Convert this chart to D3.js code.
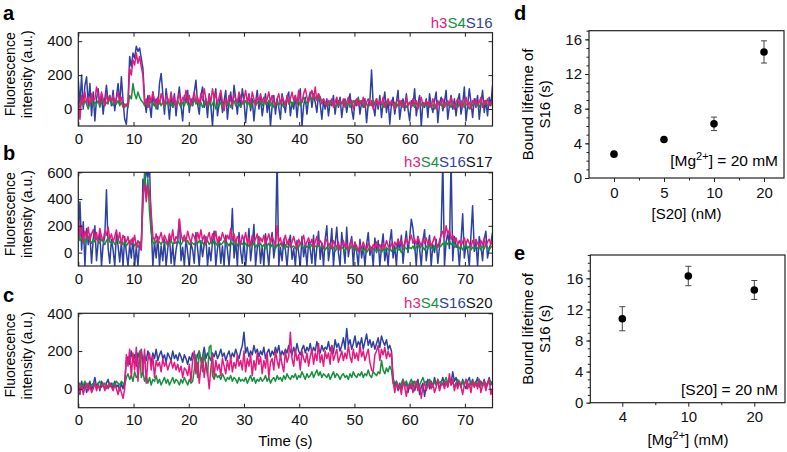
<!DOCTYPE html>
<html>
<head>
<meta charset="utf-8">
<script src="https://cdn.jsdelivr.net/npm/d3@7"></script>
<style>
  body { margin: 0; background: white; }
  svg { font-family: "Liberation Sans", Arial, Helvetica, sans-serif; }
</style>
</head>
<body>
<div id="chart"></div>
<script>
// fluorescence traces, one reading every 0.3 s from 0 to 75 s (a.u.)
const aS16 = [170,30,200,0,140,190,20,150,-40,100, -70,60,120,20,90,-30,60,140,40,80, 20,110,-10,70,150,30,190,50,-60,-90,
  40,310,250,330,300,370,340,360,300,240, 60,-20,80,30,-50,100,20,60,0,150, 210,90,-30,120,40,-60,70,10,90,-40,
  60,130,20,-70,80,40,110,-20,60,20, 100,170,30,-30,80,130,10,60,-50,90, 20,-100,60,120,-40,30,90,-20,50,110,
  -60,40,100,0,140,60,-30,80,10,120, 50,-80,30,90,-10,60,-70,40,110,0, 70,-40,30,90,-20,50,-100,20,80,-30,
  60,10,-60,90,30,-20,70,100,-40,40, 0,80,-50,50,120,-100,20,70,-30,60, 100,10,80,40,-20,90,30,-60,50,0,
  60,-40,40,20,80,-30,50,10,70,-50, 30,60,-20,40,90,0,-60,50,20,70, -30,40,10,60,-80,30,50,230,20,-40,
  60,0,80,-50,40,100,-20,50,-90,30, 70,-30,40,110,-60,20,60,-10,90,0, -70,50,20,120,-40,30,80,-100,40,10,
  60,-50,90,20,-20,50,100,-80,30,70, -10,40,110,-60,20,80,0,60,-40,50, 90,-30,30,130,-70,20,120,40,-50,60,
  10,80,-60,30,110,-20,50,-40,70,20, 140];
const aS4 = [30,10,40,20,50,30,0,40,60,20, 40,30,50,10,40,60,20,40,30,80, 40,20,60,30,50,20,40,10,30,20,
  10,80,60,150,90,60,100,70,50,40, 20,40,10,30,50,20,40,0,30,50, 20,40,10,30,60,20,40,10,30,20,
  50,30,10,40,20,50,30,10,40,20, 60,30,50,20,40,10,30,50,20,40, 10,30,50,0,30,20,40,10,30,50,
  20,40,10,30,50,20,40,30,10,40, 30,50,20,40,10,30,50,20,40,30, 50,20,40,60,30,50,20,40,10,30,
  40,20,50,30,10,40,60,30,50,20, 40,60,30,50,20,40,70,50,30,60, 70,50,90,60,80,50,70,40,60,30,
  40,20,50,30,40,10,30,50,20,40, 30,50,20,40,10,30,50,20,40,60, 30,50,20,40,30,10,40,20,50,30,
  40,20,50,30,10,40,20,50,30,40, 20,40,10,30,50,20,40,30,10,30, 40,20,30,10,40,20,50,30,10,30,
  20,40,10,30,20,0,30,40,20,30, 10,30,40,20,30,10,40,20,30,10, 30,20,40,10,30,20,0,30,20,40,
  20,30,10,40,20,30,50,20,40,30, 40];
const aH3 = [50,-60,80,30,100,40,70,20,90,50, 60,130,80,30,100,60,20,90,40,70, 50,80,30,60,100,40,70,20,10,30,
  20,240,200,290,260,330,270,310,250,200, 30,60,10,80,40,100,50,20,70,30, 90,50,20,80,60,30,100,40,70,10,
  60,90,30,70,50,110,40,80,20,60, 100,40,70,30,90,50,120,60,20,80, 40,120,60,90,30,70,110,40,-10,60,
  30,80,50,20,90,60,40,100,70,30, 60,110,40,80,30,100,60,20,70,50, 90,40,70,30,60,100,40,80,50,20,
  60,90,30,70,50,20,80,40,60,100, 50,80,30,110,60,40,90,120,70,40, 80,110,60,130,50,90,70,30,60,40,
  20,50,30,60,10,40,70,20,50,30, 60,10,40,70,30,50,0,40,60,20, 50,30,70,10,40,60,20,50,0,40,
  60,20,50,30,70,10,40,60,20,50, 30,0,40,60,20,50,10,30,70,20, 40,10,60,30,50,0,40,70,20,30,
  50,20,40,10,60,30,0,50,20,40, 60,10,30,50,20,70,30,0,40,60, 20,50,10,40,70,20,40,0,50,30,
  60,20,40,70,10,50,30,60,20,40, 30];

const bS16 = [150,380,20,230,-100,180,60,140,-80,100, 200,-60,80,150,-100,60,120,470,30,-80, 100,20,-100,140,50,-70,80,-100,120,0,
  -100,60,-40,110,-100,40,-100,80,20,550, 480,620,560,650,200,-100,80,-40,120,-100, 50,-60,100,-100,30,130,-80,60,-100,20,
  90,250,-60,40,-100,110,0,-100,70,20, -80,150,30,-100,90,-30,60,120,-100,40, -60,80,160,-100,30,100,-80,50,-100,130,
  20,-100,70,330,-40,90,-100,150,10,-80, 100,-100,40,180,-60,60,210,-100,30,120, -80,50,-100,140,20,-100,80,150,-40,60,
  700,-100,40,-60,100,20,-100,60,130,-50, 30,-100,90,0,-100,120,-30,50,-100,80, 20,-80,130,-100,40,160,-50,70,-100,100,
  200,-60,30,180,-100,60,190,0,-100,150, 40,-80,190,-30,60,120,-100,80,10,-100, 100,-40,50,-100,60,150,-20,40,-100,110,
  0,90,-100,40,140,-60,30,-100,80,170, -40,50,-100,100,20,130,-80,60,160,0, 110,250,180,60,-100,120,30,-100,90,170,
  -60,40,130,-100,60,0,100,-80,40,150, 700,-100,80,150,30,700,-60,120,40,60, -100,90,290,-40,60,20,-100,130,350,10,
  80,-100,120,50,-60,100,160,-40,30,70, 150];
const bS4 = [150,90,110,70,100,80,120,90,70,100, 80,110,90,70,100,80,60,90,110,80, 70,90,60,80,100,70,90,60,80,50,
  70,90,60,80,50,70,40,60,80,350, 600,420,550,300,150,80,60,90,70,80, 60,90,70,80,50,70,90,60,80,70,
  90,70,60,80,100,70,90,60,80,70, 60,80,70,90,60,80,50,70,90,60, 80,60,90,70,50,80,60,70,90,60,
  70,50,80,60,90,70,50,80,60,70, 50,70,40,60,80,50,70,40,60,50, 70,40,60,30,50,70,40,60,50,30,
  60,40,70,50,30,60,40,50,70,40, 50,30,60,40,70,50,30,60,40,50, 40,60,30,50,40,60,30,50,40,20,
  40,20,50,30,40,10,30,50,20,40, 30,10,40,20,30,50,20,40,10,30, 20,40,10,30,0,20,40,10,30,20,
  10,30,20,0,30,10,40,20,30,10, 30,10,40,20,30,0,20,40,30,20, 40,30,50,20,40,60,30,50,40,20,
  50,30,60,40,20,50,30,60,40,50, 70,50,80,60,90,60,70,40,60,50, 30,50,20,40,60,30,50,20,40,30,
  50,30,40,20,50,30,60,40,20,40, 50];
const bH3 = [260,120,200,80,160,110,190,90,140,170, 100,150,80,180,120,90,160,130,190,100, 140,80,120,170,90,150,60,130,100,80,
  120,50,100,70,130,40,90,60,20,420, 520,380,500,450,300,120,90,140,70,110, 150,80,130,100,60,140,90,170,70,120,
  100,250,140,90,130,80,160,110,70,140, 120,80,150,100,170,90,130,60,110,150, 80,140,100,160,70,120,90,150,110,80,
  130,100,180,90,140,70,120,100,60,130, 90,150,70,110,50,130,80,100,140,60, 110,80,130,60,100,140,70,120,90,50,
  200,80,110,50,90,130,60,100,40,80, 120,70,30,100,60,90,130,50,80,110, 60,100,40,80,120,50,90,70,30,80,
  100,50,70,30,90,60,40,80,20,60, 90,40,70,20,60,100,30,70,50,10, 60,30,80,40,20,70,50,10,60,40,
  80,30,60,20,70,40,90,50,30,70, 40,80,50,100,60,90,40,70,110,60, 90,130,70,100,60,120,80,50,100,70,
  110,60,90,50,80,120,70,40,90,130, 160,110,200,140,170,100,130,80,110,60, 90,50,80,110,60,100,70,40,90,60,
  100,70,40,90,60,110,50,80,100,60, 90];

const cS16 = [20,-30,40,0,30,-20,10,40,-10,20, 60,10,30,-10,40,20,0,30,50,10, 30,0,40,10,20,-10,30,0,40,150,
  170,130,200,150,180,120,190,160,210,140, 180,150,200,170,140,190,160,210,150,180, 200,160,180,140,190,170,150,200,160,180,
  150,190,170,140,180,160,130,170,150,190, 160,140,180,200,150,170,220,160,190,170, 150,190,170,200,160,180,210,170,190,150,
  180,200,160,190,170,210,180,160,200,230, 300,190,220,170,200,180,230,190,210,170, 200,180,220,160,190,210,170,200,180,220,
  190,230,170,200,180,210,190,230,200,180, 220,190,240,200,180,210,230,190,220,200, 240,190,220,200,250,210,190,230,200,220,
  210,250,200,230,190,260,220,240,200,230, 270,210,320,230,260,210,240,280,220,250, 230,270,210,250,290,230,260,220,250,210,
  240,270,220,280,250,230,260,210,230,200, 60,20,40,-10,30,0,50,10,40,-20, 30,0,40,-10,20,50,-30,10,30,-40,
  20,50,0,40,10,60,20,40,0,30, 60,20,40,10,50,30,90,40,60,20, 40,10,50,20,0,40,60,20,50,10,
  30,60,10,40,20,50,0,30,60,20, 40];
const cS4 = [10,30,0,20,40,10,30,0,20,30, 20,10,30,40,10,20,30,0,20,30, 10,30,20,40,30,20,40,30,20,60,
  80,50,70,40,90,60,70,200,60,90, 40,70,30,60,20,50,40,70,30,50, 20,40,60,30,50,20,40,60,30,50,
  40,20,50,30,60,40,20,50,30,40, 100,180,60,200,150,90,190,130,70,220, 230,70,50,80,60,70,50,80,60,40,
  60,50,70,40,60,50,30,60,40,50, 40,60,30,50,70,40,60,30,50,40, 60,40,50,70,40,60,30,50,60,40,
  70,50,60,40,70,50,80,60,50,70, 60,80,50,70,60,90,70,50,80,60, 70,90,60,80,100,70,90,60,80,70,
  60,80,50,70,90,60,80,70,50,70, 80,60,70,50,80,60,90,70,60,80, 70,90,60,80,70,100,70,60,90,80,
  70,90,80,150,100,80,110,90,120,100, 30,10,40,20,0,30,50,20,40,10, 30,50,20,40,10,30,20,40,60,30,
  40,20,50,30,10,40,20,50,30,40, 20,40,60,30,50,20,40,10,30,50, 30,10,40,20,50,30,10,40,20,30,
  40,20,50,30,10,40,30,20,50,30, 40];
const cH3 = [40,-20,20,-30,10,30,-10,20,-20,0, 30,-10,20,0,10,30,-10,20,0,30, 10,-10,20,0,-30,10,-20,-50,0,180,
  120,210,60,190,100,220,40,160,200,80, 210,30,150,190,100,170,60,150,120,140, 90,160,120,140,100,130,150,110,140,100,
  130,90,120,60,110,100,70,130,40,150, 200,80,140,30,120,170,60,140,90,0, 110,180,60,150,100,130,70,160,120,80,
  150,100,170,90,140,110,180,120,150,100, 200,90,160,120,180,70,150,100,190,130, 170,80,150,110,190,60,140,160,100,200,
  150,110,180,130,90,200,140,170,300,160, 120,210,150,180,100,200,160,140,190,120, 170,210,130,190,150,240,140,180,120,200,
  160,190,130,230,150,180,210,140,170,200, 150,190,160,230,170,140,210,160,190,150, 230,170,200,150,180,210,140,100,90,180,
  200,230,150,210,180,220,160,200,170,190, 40,-20,30,0,20,-30,40,10,-40,20, 0,30,-20,10,40,-10,20,-50,10,30,
  -10,20,40,0,30,-20,10,50,-10,20, 30,0,40,10,80,20,50,-10,30,0, 40,10,-30,20,50,0,30,-20,40,10,
  30,0,50,-20,20,40,-10,30,50,-30, 0];

// panel d: bound lifetime vs [S20]
const dConc = ["0", "5", "10", "20"];
const dLife = [2.75, 4.45, 6.25, 14.55];
const dErr = [0.15, 0.2, 0.78, 1.28];
// panel e: bound lifetime vs [Mg2+]
const eMg = ["4", "10", "20"];
const eLife = [10.8, 16.3, 14.5];
const eErr = [1.55, 1.25, 1.22];

const pink = "#e6197f", green = "#14913c", blue = "#2d41a0", ink = "#222";

const svg = d3.select("#chart").append("svg")
  .attr("width", 787)
  .attr("height", 452)
  .style("background-color", "white");

function letter(txt, x, y) {
  svg.append("text").attr("x", x).attr("y", y)
    .style("font-weight", "bold").style("font-size", "20px")
    .text(txt);
}

function tracePanel(id, top, bottom, yDomain, yTicks, series, extra) {
  const left = 78.3, right = 492.5;
  const x = d3.scaleLinear().domain([0, 75]).range([left, right]);
  const y = d3.scaleLinear().domain(yDomain).range([bottom, top]);
  const g = svg.append("g");

  g.append("clipPath").attr("id", "clip" + id)
    .append("rect").attr("x", left).attr("y", top)
    .attr("width", right - left).attr("height", bottom - top);

  const lines = g.append("g").attr("clip-path", "url(#clip" + id + ")");
  series.forEach(s => {
    const n = s.values.length;
    const line = d3.line()
      .x((d, i) => x(i * 75 / (n - 1)))
      .y(d => y(d));
    lines.append("path")
      .datum(s.values)
      .attr("d", line)
      .attr("fill", "none")
      .attr("stroke", s.color)
      .attr("stroke-width", 1.5)
      .attr("stroke-linejoin", "round");
  });

  const xTicks = [0, 10, 20, 30, 40, 50, 60, 70];
  g.append("g").attr("transform", `translate(0,${bottom})`)
    .call(d3.axisBottom(x).tickValues(xTicks).tickSize(-4).tickPadding(7));
  g.append("g").attr("transform", `translate(0,${top})`)
    .call(d3.axisTop(x).tickValues(xTicks).tickSize(-4).tickFormat(""));
  g.append("g").attr("transform", `translate(${left},0)`)
    .call(d3.axisLeft(y).tickValues(yTicks).tickSize(-4).tickPadding(6));
  g.append("g").attr("transform", `translate(${right},0)`)
    .call(d3.axisRight(y).tickValues(yTicks).tickSize(-4).tickFormat(""));
  g.selectAll(".domain").remove();
  g.selectAll(".tick line").attr("stroke", ink).attr("stroke-width", 1);
  g.selectAll(".tick text").attr("fill", "#111").style("font-size", "15px").style("font-family", null);

  g.append("rect").attr("x", left).attr("y", top)
    .attr("width", right - left).attr("height", bottom - top)
    .attr("fill", "none").attr("stroke", ink).attr("stroke-width", 1.2);

  // label colours name the three dyes, plus the added protein in black
  const lab = g.append("text").attr("x", right).attr("y", top - 5)
    .attr("text-anchor", "end").style("font-size", "15px");
  lab.append("tspan").attr("fill", pink).text("h3");
  lab.append("tspan").attr("fill", green).text("S4");
  lab.append("tspan").attr("fill", blue).text("S16");
  if (extra) lab.append("tspan").attr("fill", "#111").text(extra);

  const cy = (top + bottom) / 2 - 5;
  g.append("text").attr("transform", `translate(15,${cy}) rotate(-90)`)
    .attr("text-anchor", "middle").style("font-size", "14px").text("Fluorescence");
  g.append("text").attr("transform", `translate(32,${cy}) rotate(-90)`)
    .attr("text-anchor", "middle").style("font-size", "14px").text("intensity (a.u.)");
}

tracePanel("a", 32.7, 126, [-100, 450], [0, 200, 400],
  [{ values: aS16, color: blue }, { values: aS4, color: green }, { values: aH3, color: pink }], null);
tracePanel("b", 172.3, 266, [-100, 600], [0, 200, 400, 600],
  [{ values: bS16, color: blue }, { values: bS4, color: green }, { values: bH3, color: pink }], "S17");
tracePanel("c", 313.3, 407.7, [-100, 400], [0, 200, 400],
  [{ values: cS16, color: blue }, { values: cS4, color: green }, { values: cH3, color: pink }], "S20");

svg.append("text").attr("x", 285.4).attr("y", 446)
  .attr("text-anchor", "middle").style("font-size", "15px").text("Time (s)");

letter("a", 3, 20);
letter("b", 3, 160);
letter("c", 3, 302);
letter("d", 514, 20);
letter("e", 514, 260);

function lifetimePanel(left, right, top, bottom, yMax, xDomain, cats, life, err) {
  const x = d3.scaleLinear().domain(xDomain).range([left, right]);
  const y = d3.scaleLinear().domain([0, yMax]).range([bottom, top]);
  const g = svg.append("g");

  g.append("g").attr("transform", `translate(${left},0)`)
    .call(d3.axisLeft(y).tickValues(d3.range(0, yMax + 1)).tickSize(2.5).tickFormat(""));
  g.append("g").attr("transform", `translate(${left},0)`)
    .call(d3.axisLeft(y).tickValues([0, 4, 8, 12, 16]).tickSize(4).tickPadding(3));
  const idx = cats.map((c, i) => i);
  g.append("g").attr("transform", `translate(0,${bottom})`)
    .call(d3.axisBottom(x).tickValues(idx.slice(1).map(i => i - 0.5)).tickSize(2.5).tickFormat(""));
  g.append("g").attr("transform", `translate(0,${bottom})`)
    .call(d3.axisBottom(x).tickValues(idx).tickSize(4).tickPadding(5).tickFormat(i => cats[i]));
  g.selectAll(".domain").remove();
  g.selectAll(".tick line").attr("stroke", ink).attr("stroke-width", 1);
  g.selectAll(".tick text").attr("fill", "#111").style("font-size", "15px").style("font-family", null);

  g.append("rect").attr("x", left).attr("y", top)
    .attr("width", right - left).attr("height", bottom - top)
    .attr("fill", "none").attr("stroke", ink).attr("stroke-width", 1.2);

  const pts = g.selectAll(".pt").data(life).enter().append("g");
  pts.append("line")
    .attr("x1", (d, i) => x(i)).attr("x2", (d, i) => x(i))
    .attr("y1", (d, i) => y(d - err[i])).attr("y2", (d, i) => y(d + err[i]))
    .attr("stroke", "#444").attr("stroke-width", 1);
  [-1, 1].forEach(s => {
    pts.append("line")
      .attr("x1", (d, i) => x(i) - 3).attr("x2", (d, i) => x(i) + 3)
      .attr("y1", (d, i) => y(d + s * err[i])).attr("y2", (d, i) => y(d + s * err[i]))
      .attr("stroke", "#444").attr("stroke-width", 1);
  });
  pts.append("circle")
    .attr("cx", (d, i) => x(i)).attr("cy", d => y(d))
    .attr("r", 3.8).attr("fill", "#000");

  const cy = (top + bottom) / 2;
  g.append("text").attr("transform", `translate(533,${cy}) rotate(-90)`)
    .attr("text-anchor", "middle").style("font-size", "15px").text("Bound lifetime of");
  g.append("text").attr("transform", `translate(550,${cy}) rotate(-90)`)
    .attr("text-anchor", "middle").style("font-size", "15px").text("S16 (s)");
  return g;
}

const gd = lifetimePanel(589, 784, 30.7, 178, 17, [-0.5, 3.4], dConc, dLife, dErr);
const td = gd.append("text").attr("x", 778).attr("y", 166)
  .attr("text-anchor", "end").style("font-size", "15.5px");
td.append("tspan").text("[Mg");
td.append("tspan").attr("dy", -6).style("font-size", "11px").text("2+");
td.append("tspan").attr("dy", 6).text("] = 20 mM");
gd.append("text").attr("x", 686.5).attr("y", 219)
  .attr("text-anchor", "middle").style("font-size", "15px").text("[S20] (nM)");

const ge = lifetimePanel(590.3, 785, 255, 402.7, 19, [-0.485, 2.465], eMg, eLife, eErr);
ge.append("text").attr("x", 778).attr("y", 395)
  .attr("text-anchor", "end").style("font-size", "15.5px").text("[S20] = 20 nM");
const te = ge.append("text").attr("x", 688).attr("y", 445)
  .attr("text-anchor", "middle").style("font-size", "15px");
te.append("tspan").text("[Mg");
te.append("tspan").attr("dy", -6).style("font-size", "11px").text("2+");
te.append("tspan").attr("dy", 6).text("] (mM)");
</script>
</body>
</html>
